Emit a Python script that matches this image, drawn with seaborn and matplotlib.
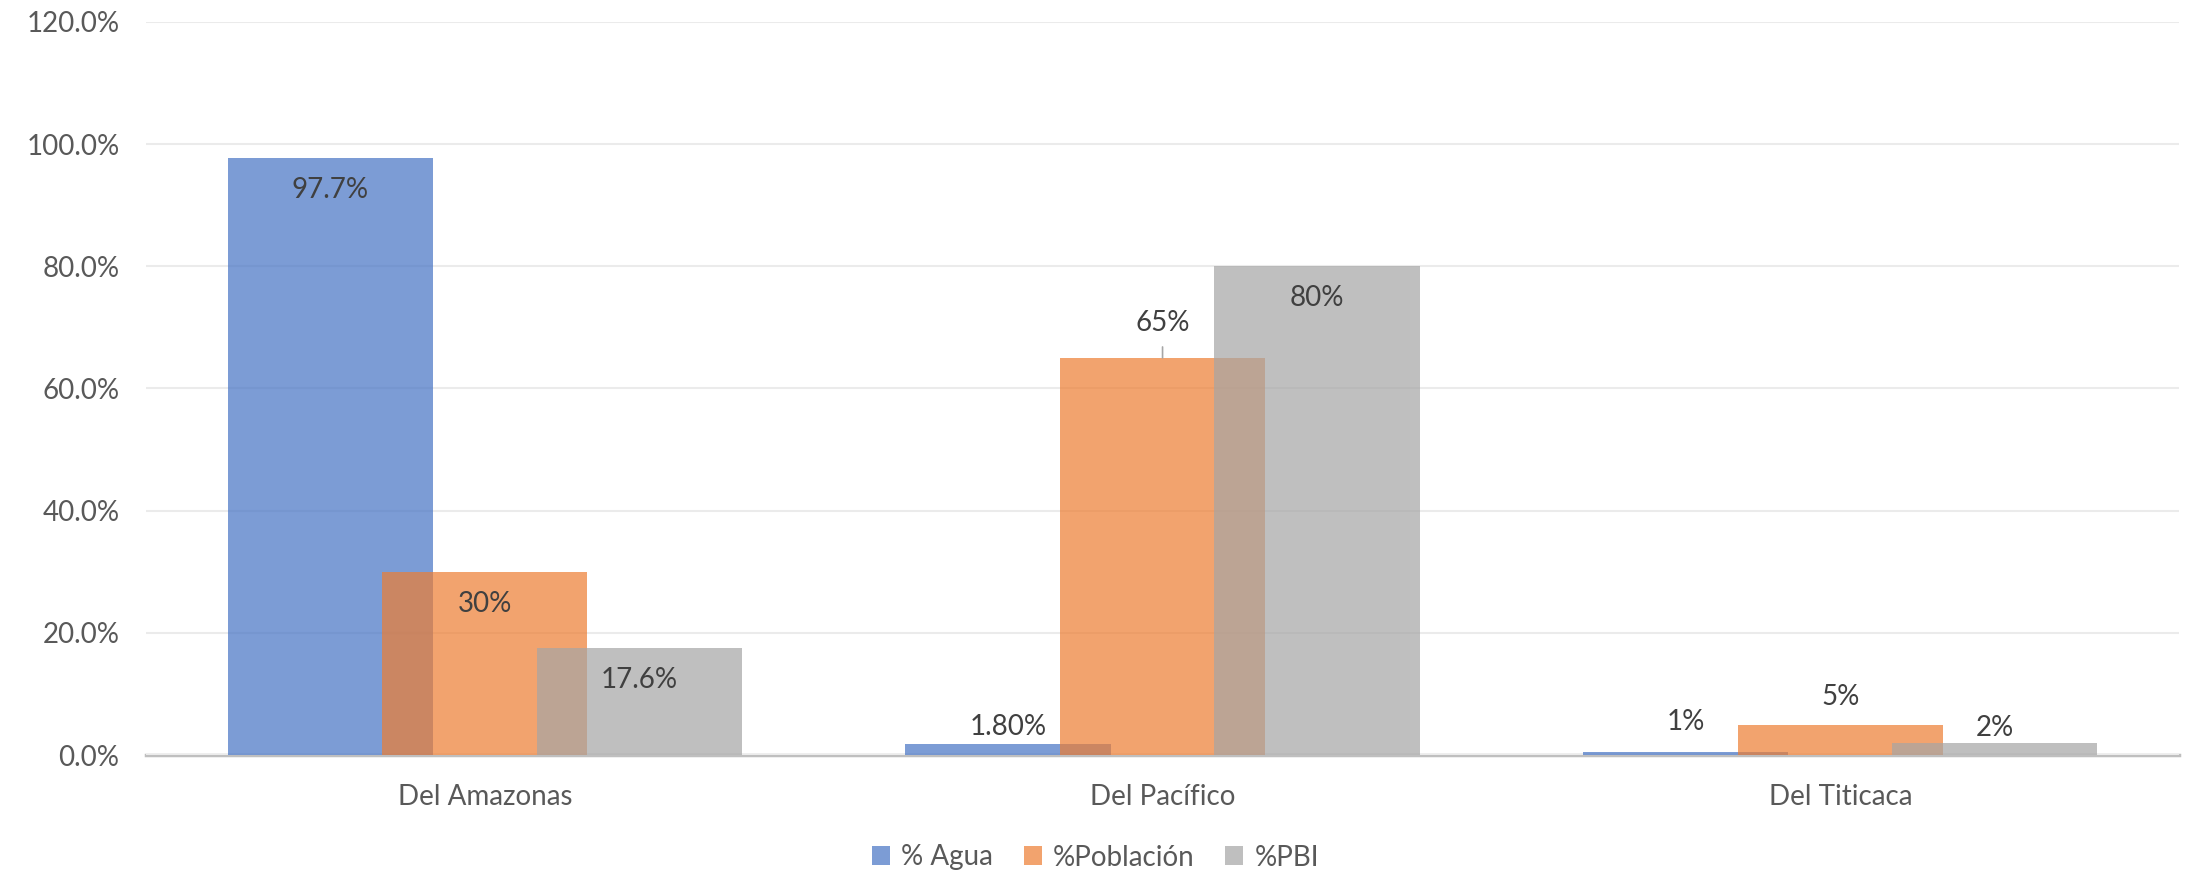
import numpy as np
import pandas as pd
import matplotlib
matplotlib.use("Agg")
import matplotlib.pyplot as plt
import seaborn as sns

# datos (fracciones)
cuencas = ["Del Amazonas", "Del Pacífico", "Del Titicaca"]
agua = [0.977, 0.018, 0.005]
poblacion = [0.30, 0.65, 0.05]
pbi = [0.176, 0.80, 0.02]

series_nombres = ["% Agua", "%Población", "%PBI"]
etiquetas_agua = ["97.7%", "1.80%", "1%"]
etiquetas_poblacion = ["30%", "65%", "5%"]
etiquetas_pbi = ["17.6%", "80%", "2%"]
yticks = [0.0, 0.2, 0.4, 0.6, 0.8, 1.0, 1.2]

# estilo
sns.set_theme(style="white")
plt.rcParams['font.family'] = ['Lato', 'DejaVu Sans']

colores = ["#4472C4", "#ED7D31", "#A5A5A5"]
desplaz = [-0.228, 0.0, 0.228]
ancho = 0.303
# desplazamiento vertical de cada etiqueta (puntos), negativo = dentro de la barra
offs_etiqueta = [[-23, 12, 22], [-23, 25, 20], [-23, -23, 11]]
con_guia = [[False, False, False], [False, True, False], [False, False, False]]

fig = plt.figure(figsize=(21.91, 8.75), dpi=100)
ax = fig.add_axes([0.0666, 0.137, 0.928, 0.838])

valores = [agua, poblacion, pbi]
etiquetas = [etiquetas_agua, etiquetas_poblacion, etiquetas_pbi]
base = np.arange(len(cuencas))

for i, nombre in enumerate(series_nombres):
    df = pd.DataFrame({"x": base + desplaz[i], "y": valores[i]})
    sns.barplot(data=df, x="x", y="y", native_scale=True, width=ancho,
                color=colores[i], saturation=1, alpha=0.7, errorbar=None,
                label=nombre, ax=ax, linewidth=0)

# etiquetas de datos
for i, cont in enumerate(ax.containers):
    for j, p in enumerate(cont.patches):
        cx = p.get_x() + p.get_width() / 2
        h = p.get_height()
        if con_guia[i][j]:
            ax.annotate("", (cx, h), xytext=(cx, h + 0.018),
                        arrowprops=dict(arrowstyle="-", color="#A6A6A6", lw=1.2,
                                        shrinkA=0, shrinkB=0))
        ax.annotate(etiquetas[i][j], (cx, h), xytext=(0, offs_etiqueta[i][j]),
                    textcoords="offset points", ha="center", va="center",
                    fontsize=20, color="#404040")

ax.set_xlim(-0.5, 2.5)
ax.set_ylim(0, 1.2)
ax.set_xticks(base)
ax.set_xticklabels(cuencas)
ax.set_yticks(yticks)
ax.set_yticklabels([f"{v*100:.1f}%" for v in yticks])
ax.set_xlabel("")
ax.set_ylabel("")
ax.tick_params(axis="both", length=0, labelsize=20, labelcolor="#595959")
ax.tick_params(axis="y", pad=19)
ax.tick_params(axis="x", pad=21)
ax.grid(axis="y", color="#EBEBEB", linewidth=1.5)
ax.set_axisbelow(True)
for s in ["left", "right", "top"]:
    ax.spines[s].set_visible(False)
ax.spines["bottom"].set_color("#BFBFBF")
ax.spines["bottom"].set_linewidth(2.5)
ax.spines["bottom"].set_zorder(0.5)

leg = ax.legend(loc="center", bbox_to_anchor=(0.5, 0.02), bbox_transform=fig.transFigure,
                ncol=3, frameon=False, fontsize=20, handlelength=0.65, handleheight=0.65,
                handletextpad=0.4, columnspacing=1.1, labelcolor="#595959")

fig.savefig("out.png", dpi=100)
